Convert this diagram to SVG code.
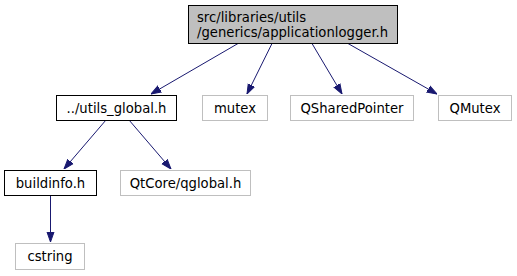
<svg xmlns="http://www.w3.org/2000/svg" width="517" height="276" viewBox="0 0 517 276">
<style>
  .node rect { stroke-width: 1; }
  .cur rect { fill: #bfbfbf; stroke: #000000; }
  .doc rect { fill: #ffffff; stroke: #000000; }
  .ext rect { fill: #ffffff; stroke: #bfbfbf; }
  text { font-family: "DejaVu Sans", "Liberation Sans", sans-serif; font-size: 13.2px; fill: #000000; text-anchor: middle; }
  .edge { stroke: #191970; stroke-width: 1; fill: none; }
</style>
<defs>
  <marker id="arrow" viewBox="0 0 10 10" refX="10" refY="5" markerWidth="10" markerHeight="10" markerUnits="userSpaceOnUse" orient="auto">
    <path d="M0,1.5 L10,5 L0,8.5 Z" fill="#191970" stroke="#191970"/>
  </marker>
</defs>
<rect width="517" height="276" fill="#ffffff"/>
<g id="edges">
  <line class="edge" x1="238" y1="43.5" x2="151" y2="94" marker-end="url(#arrow)"/>
  <line class="edge" x1="272" y1="43.5" x2="247" y2="94" marker-end="url(#arrow)"/>
  <line class="edge" x1="312" y1="43.5" x2="342" y2="94" marker-end="url(#arrow)"/>
  <line class="edge" x1="348" y1="43.5" x2="437" y2="94" marker-end="url(#arrow)"/>
  <line class="edge" x1="106" y1="120" x2="64" y2="169" marker-end="url(#arrow)"/>
  <line class="edge" x1="129" y1="120" x2="171" y2="169" marker-end="url(#arrow)"/>
  <line class="edge" x1="50.5" y1="195" x2="50.5" y2="242" marker-end="url(#arrow)"/>
</g>
<g id="node_root" class="node cur">
  <rect x="188.5" y="5.5" width="209" height="38"/>
  <text x="197" y="22" style="text-anchor:start">src/libraries/utils</text>
  <text x="197" y="37" style="text-anchor:start">/generics/applicationlogger.h</text>
</g>
<g id="node_utils_global" class="node doc">
  <rect x="56.5" y="95.5" width="120" height="25"/>
  <text x="116.5" y="112.5">../utils_global.h</text>
</g>
<g id="node_mutex" class="node ext">
  <rect x="202.5" y="95.5" width="65" height="25"/>
  <text x="235" y="112.5">mutex</text>
</g>
<g id="node_qsharedpointer" class="node ext">
  <rect x="290.5" y="95.5" width="123" height="25"/>
  <text x="352" y="112.5">QSharedPointer</text>
</g>
<g id="node_qmutex" class="node ext">
  <rect x="438.5" y="95.5" width="73" height="25"/>
  <text x="475" y="112.5">QMutex</text>
</g>
<g id="node_buildinfo" class="node doc">
  <rect x="4.5" y="170.5" width="92" height="25"/>
  <text x="50.5" y="187.5">buildinfo.h</text>
</g>
<g id="node_qglobal" class="node ext">
  <rect x="120.5" y="170.5" width="130" height="25"/>
  <text x="185.5" y="187.5">QtCore/qglobal.h</text>
</g>
<g id="node_cstring" class="node ext">
  <rect x="15.5" y="243.5" width="69" height="26"/>
  <text x="50" y="261">cstring</text>
</g>
</svg>
